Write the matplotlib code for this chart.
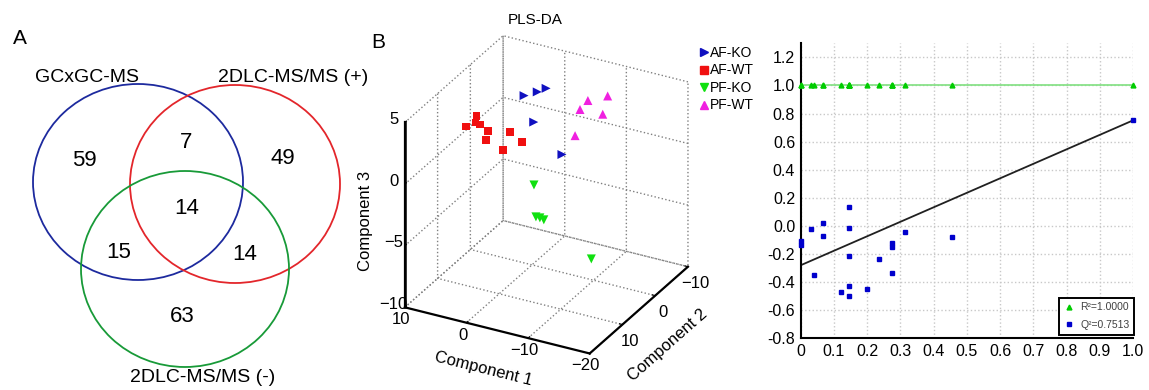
import matplotlib
matplotlib.use("Agg")
import matplotlib.pyplot as plt
from matplotlib.patches import Ellipse
from matplotlib.lines import Line2D

plt.rcParams['font.family'] = ['Liberation Sans', 'DejaVu Sans']
plt.rcParams['grid.linestyle'] = ':'
plt.rcParams['grid.color'] = '#808080'
plt.rcParams['grid.linewidth'] = 1.0

# ---------------- Panel A: Venn diagram ----------------
venn_sets = ['GCxGC-MS', '2DLC-MS/MS (+)', '2DLC-MS/MS (-)']
venn_colors = ['#1d2a9e', '#e3262b', '#189a38']
venn_counts = {'100': 59, '010': 49, '001': 63, '110': 7, '101': 15, '011': 14, '111': 14}

# ---------------- Panel B: PLS-DA scores ----------------
groups = ['AF-KO', 'AF-WT', 'PF-KO', 'PF-WT']
group_colors = ['#1010c0', '#f01010', '#10e010', '#f020e0']
group_markers = ['>', 's', 'v', '^']
afko_c1 = [2.35, 0.21, -1.23, 0.78, -3.80]
afko_c2 = [-2, -2, -2, -2, -2]
afko_c3 = [2.97, 3.54, 4.01, 1.02, -1.04]
afwt_c1 = [6.52, 4.76, 4.92, 4.12, 2.83, 3.15, -0.70, 0.42, -2.63]
afwt_c2 = [8, 8, 8, 8, 8, 8, 8, 8, 8]
afwt_c3 = [2.29, 3.33, 2.82, 2.75, 2.42, 1.64, 2.73, 1.16, 2.15]
pfko_c1 = [-2.98, -3.30, -3.94, -4.58, -12.29]
pfko_c2 = [5, 5, 5, 5, 5]
pfko_c3 = [-1.97, -4.52, -4.52, -4.60, -6.81]
pfwt_c1 = [-4.82, -8.03, -3.54, -7.23, -2.74]
pfwt_c2 = [-8, -8, -8, -8, -8]
pfwt_c3 = [2.06, 2.83, 1.17, 1.25, -1.05]
c1_lim = (-20, 10)
c2_lim = (-10, 20)
c3_lim = (-10, 5)
c1_ticks = [-20, -10, 0, 10]
c2_ticks = [-10, 0, 10]
c3_ticks = [-10, -5, 0, 5]

# ---------------- Panel C: permutation test ----------------
perm_corr = [0, 0, 0.03, 0.041, 0.068, 0.068, 0.12, 0.146, 0.146, 0.146,
             0.146, 0.146, 0.2, 0.237, 0.276, 0.276, 0.276, 0.313, 0.455, 1.0]
perm_r2 = [1.0] * 20
perm_q2 = [-0.105, -0.136, -0.022, -0.349, 0.023, -0.072, -0.468, 0.132, -0.017, -0.214,
           -0.425, -0.496, -0.446, -0.238, -0.119, -0.148, -0.337, -0.046, -0.081, 0.7513]
r2_line_x = [0.0, 1.0]
r2_line_y = [1.0, 1.0]
q2_line_x = [0.0, 1.0]
q2_line_y = [-0.28, 0.7513]
c_xticks = [0, 0.1, 0.2, 0.3, 0.4, 0.5, 0.6, 0.7, 0.8, 0.9, 1.0]
c_xticklabels = ['0', '0.1', '0.2', '0.3', '0.4', '0.5', '0.6', '0.7', '0.8', '0.9', '1.0']
c_yticks = [-0.8, -0.6, -0.4, -0.2, 0.0, 0.2, 0.4, 0.6, 0.8, 1.0, 1.2]
c_yticklabels = ['-0.8', '-0.6', '-0.4', '-0.2', '0.0', '0.2', '0.4', '0.6', '0.8', '1.0', '1.2']

W, H = 1149, 390
fig = plt.figure(figsize=(W / 100, H / 100), dpi=100)

# ===== Panel A =====
axA = fig.add_axes([0, 0, 380 / W, 1])
axA.set_xlim(0, 380)
axA.set_ylim(390, 0)
axA.axis('off')
circles = [(138, 182, 105, 98), (235, 184, 105, 99), (185, 269, 104, 98)]
for (cx, cy, rx, ry), col in zip(circles, venn_colors):
    axA.add_patch(Ellipse((cx, cy), 2 * rx, 2 * ry, fill=False, edgecolor=col, lw=1.3))
axA.text(87, 77, venn_sets[0], ha='center', va='center', fontsize=14)
axA.text(293, 77, venn_sets[1], ha='center', va='center', fontsize=14)
axA.text(203, 377, venn_sets[2], ha='center', va='center', fontsize=14)
num_pos = {'100': (84, 160), '110': (186, 143), '010': (283, 159), '111': (187, 208),
           '101': (119, 252), '011': (245, 255), '001': (182, 316)}
for k, (x, y) in num_pos.items():
    axA.text(x, y, str(venn_counts[k]), ha='center', va='center', fontsize=16)
axA.text(20, 38, 'A', ha='center', va='center', fontsize=15)

# ===== Panel B =====
axB = fig.add_axes([341 / W, (390 - 400) / H, 400 / W, 400 / H], projection='3d', proj_type='ortho')
axB.set_facecolor('none')
axB.patch.set_alpha(0)
axB.view_init(elev=28, azim=118)
axB.set_box_aspect((1, 1, 1), zoom=0.88)
axB.set_xlim(*c1_lim)
axB.set_ylim(*c2_lim)
axB.set_zlim(*c3_lim)
data_b = [(afko_c1, afko_c2, afko_c3), (afwt_c1, afwt_c2, afwt_c3),
          (pfko_c1, pfko_c2, pfko_c3), (pfwt_c1, pfwt_c2, pfwt_c3)]
handles = []
for (c1, c2, c3), g, col, mk in zip(data_b, groups, group_colors, group_markers):
    s = 32 if mk == 's' else 42
    axB.scatter(c1, c2, c3, c=col, marker=mk, s=s, depthshade=False, edgecolors='none')
    handles.append(Line2D([], [], color=col, marker=mk, linestyle='none', markersize=6, label=g))
# solid vertical axis edge (front-left), as in the MATLAB original
axB.plot3D([c1_lim[1], c1_lim[1]], [c2_lim[1], c2_lim[1]], [c3_lim[0], c3_lim[1]],
           color='black', lw=1.8, zorder=10)
axB.set_xlim(*c1_lim)
axB.set_ylim(*c2_lim)
axB.set_zlim(*c3_lim)
axB.set_xticks(c1_ticks)
axB.set_yticks(c2_ticks)
axB.set_zticks(c3_ticks)
for axis in (axB.xaxis, axB.yaxis, axB.zaxis):
    axis.set_pane_color((1, 1, 1, 0))
    axis.pane.set_edgecolor((1, 1, 1, 0))
    axis.line.set_color('black')
    axis.line.set_linewidth(1.6)
    axis._axinfo['grid'].update(color='#808080', linestyle=':', linewidth=1.0)
    axis._axinfo['tick']['inward_factor'] = 0.0
    axis._axinfo['tick']['outward_factor'] = 0.2
axB.zaxis.set_ticks_position('upper')
axB.zaxis.set_label_position('upper')
axB.tick_params(labelsize=12, pad=-2)
for lbl in axB.get_zticklabels():
    lbl.set_va('baseline')
for lbl in axB.get_xticklabels():
    lbl.set_va('center_baseline')
axB.set_xlabel('Component 1', fontsize=12, labelpad=0)
axB.set_ylabel('Component 2', fontsize=12, labelpad=2)
axB.set_zlabel('Component 3', fontsize=12, labelpad=0)
fig.text(535 / W, 1 - 20 / H, 'PLS-DA', ha='center', va='center', fontsize=11)
fig.text(378 / W, 1 - 42 / H, 'B', ha='center', va='center', fontsize=15)
fig.legend(handles=handles, loc='upper left', bbox_to_anchor=(693 / W, 1 - 39 / H),
           frameon=False, fontsize=10, handletextpad=0.1, handlelength=0.6,
           labelspacing=0.25, borderpad=0)

# ===== Panel C =====
axC = fig.add_axes([800.7 / W, (390 - 338.3) / H, 332.3 / W, 295 / H])
axC.plot(r2_line_x, r2_line_y, color='#80e080', lw=1.2, zorder=2)
axC.plot(q2_line_x, q2_line_y, color='#202020', lw=1.3, zorder=2)
axC.plot(perm_corr, perm_r2, linestyle='none', marker='^', color='#00cc00', markersize=3.5,
         label='R\u00b2=1.0000', clip_on=False, zorder=3)
axC.plot(perm_corr, perm_q2, linestyle='none', marker='s', color='#0000cc', markersize=3,
         label='Q\u00b2=0.7513', clip_on=False, zorder=3)
axC.set_xlim(0, 1.0)
axC.set_ylim(-0.8, 1.3)
axC.set_xticks(c_xticks)
axC.set_xticklabels(c_xticklabels)
axC.set_yticks(c_yticks)
axC.set_yticklabels(c_yticklabels)
axC.tick_params(length=0, labelsize=11.5, pad=4)
axC.grid(True, color='#c8c8c8', linestyle=':', linewidth=1.0)
axC.spines['top'].set_visible(False)
axC.spines['right'].set_visible(False)
axC.spines['left'].set_linewidth(1.5)
axC.spines['bottom'].set_linewidth(1.5)
leg = axC.legend(loc='lower right', bbox_to_anchor=(1.003, 0.012), fontsize=7.5,
                 fancybox=False, edgecolor='black', framealpha=1, handletextpad=0.5,
                 handlelength=1.1, borderaxespad=0.0, labelspacing=0.75, borderpad=0.45)
leg.get_frame().set_linewidth(1.4)
for t in leg.get_texts():
    t.set_color('#404040')

fig.savefig('out.png', dpi=100)
